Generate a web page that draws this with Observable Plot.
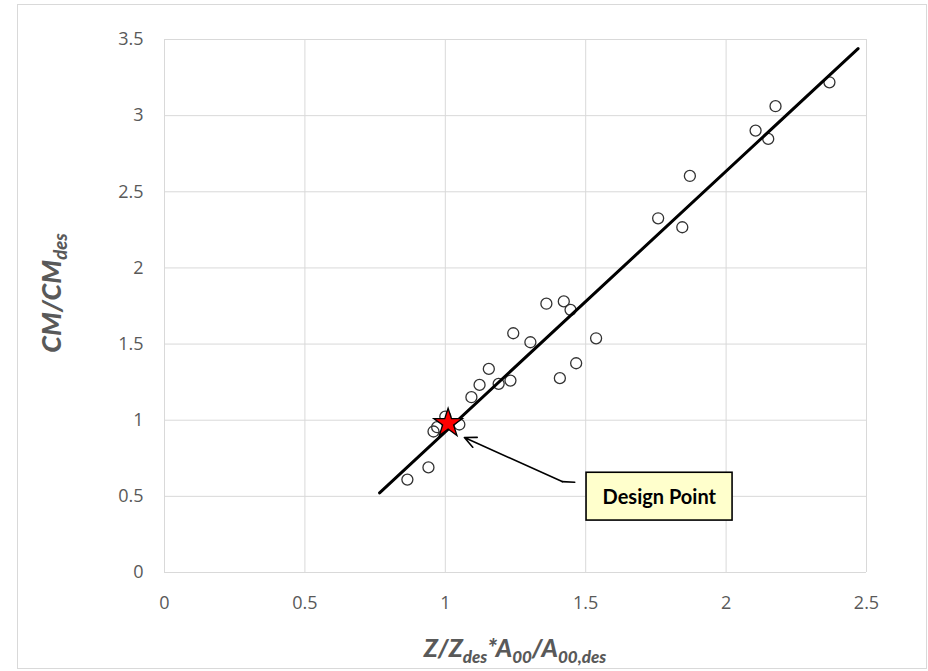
<!DOCTYPE html>
<html><head><meta charset="utf-8">
<script src="https://cdn.jsdelivr.net/npm/d3@7"></script>
<script src="https://cdn.jsdelivr.net/npm/@observablehq/plot@0.6"></script>
<style>
body{margin:0;background:#fff;}
#chart{position:relative;width:928px;height:671px;}
#frame{position:absolute;left:17px;top:4px;width:910px;height:665px;border:1px solid #d9d9d9;box-sizing:border-box;pointer-events:none}
</style></head><body>
<div id="chart"><div id="frame"></div></div>
<script>
// tick values
const xTicks = [0, 0.5, 1, 1.5, 2, 2.5];
const yTicks = [0, 0.5, 1, 1.5, 2, 2.5, 3, 3.5];
// measured points
const ptX = [0.865, 0.94, 0.958, 0.971, 1.0, 1.05, 1.093, 1.122, 1.155, 1.19, 1.232, 1.242, 1.303, 1.36, 1.408, 1.422, 1.446, 1.466, 1.537, 1.758, 1.844, 1.871, 2.105, 2.15, 2.176, 2.368];
const ptY = [0.61, 0.69, 0.926, 0.954, 1.024, 0.972, 1.151, 1.232, 1.337, 1.239, 1.26, 1.571, 1.512, 1.765, 1.276, 1.78, 1.725, 1.374, 1.538, 2.326, 2.267, 2.604, 2.902, 2.847, 3.062, 3.219];
// trend line endpoints
const fitX = [0.766, 2.47];
const fitY = [0.523, 3.44];
// design point
const designX = [1.01];
const designY = [0.98];
// annotation
const leaderX = [1.461, 1.416];
const leaderY = [0.593, 0.597];
const arrowTipX = [1.068];
const arrowTipY = [0.886];
const boxX = [1.503, 2.023];
const boxY = [0.341, 0.655];
const labelX = [1.762];
const labelY = [0.495];
const labelText = ["Design Point"];

const points = ptX.map((x, i) => ({x, y: ptY[i]}));
const fit = fitX.map((x, i) => ({x, y: fitY[i]}));
const design = designX.map((x, i) => ({x, y: designY[i]}));
const leader = leaderX.map((x, i) => ({x, y: leaderY[i]}));
const arrow = [{x1: leaderX[1], y1: leaderY[1], x2: arrowTipX[0], y2: arrowTipY[0]}];
const box = [{x1: boxX[0], x2: boxX[1], y1: boxY[0], y2: boxY[1]}];
const label = labelText.map((t, i) => ({x: labelX[i], y: labelY[i], t}));

const grid = "#d9d9d9";
const plot = Plot.plot({
  width: 928, height: 671,
  marginLeft: 164, marginRight: 62, marginTop: 39, marginBottom: 99,
  x: {domain: [0, 2.5]},
  y: {domain: [0, 3.5]},
  style: {fontFamily: "'Open Sans', sans-serif", fontSize: "18px", color: "#595959", background: "transparent"},
  marks: [
    Plot.gridX(xTicks, {stroke: grid, strokeOpacity: 1, strokeWidth: 1}),
    Plot.gridY(yTicks, {stroke: grid, strokeOpacity: 1, strokeWidth: 1}),
    Plot.axisX(xTicks, {tickSize: 0, tickPadding: 24, label: null, tickFormat: d => String(d), fill: "#595959", fontSize: 18}),
    Plot.axisY(yTicks, {tickSize: 0, tickPadding: 21, label: null, tickFormat: d => String(d), fill: "#595959", fontSize: 18}),
    Plot.dot(points, {x: "x", y: "y", r: 5.5, stroke: "#333", strokeWidth: 1.3, fill: "none"}),
    Plot.line(fit, {x: "x", y: "y", stroke: "black", strokeWidth: 3}),
    Plot.line(leader, {x: "x", y: "y", stroke: "black", strokeWidth: 1.6}),
    Plot.arrow(arrow, {x1: "x1", y1: "y1", x2: "x2", y2: "y2", stroke: "black", strokeWidth: 1.6, headLength: 12, headAngle: 50}),
    Plot.rect(box, {x1: "x1", x2: "x2", y1: "y1", y2: "y2", fill: "#ffffcc", stroke: "black", strokeWidth: 1.6}),
    Plot.text(label, {x: "x", y: "y", text: "t", fontWeight: "bold", fontSize: 20, fill: "black", fontFamily: "Lato, sans-serif"}),
    Plot.dot(design, {x: "x", y: "y", symbol: "star", r: 9, fill: "red", stroke: "black", strokeWidth: 1.3})
  ]
});
document.getElementById("chart").appendChild(plot);

const svg = d3.select(plot);
const titleStyle = (t, fs) => t.attr("font-family", "Lato, sans-serif").attr("font-weight", "900").attr("font-style", "italic").attr("fill", "#595959").attr("font-size", fs);
function sub(t, s, fs) { t.append("tspan").attr("font-size", fs * 0.68).attr("dy", fs * 0.24).text(s); }
function main(t, s, fs) { t.append("tspan").attr("font-size", fs).attr("dy", -fs * 0.24).text(s); }

const xfs = 25;
const xt = svg.append("text").attr("x", 515).attr("y", 657).attr("text-anchor", "middle").call(titleStyle, xfs);
xt.append("tspan").text("Z/Z");
sub(xt, "des", xfs);
main(xt, "*A", xfs);
sub(xt, "00", xfs);
main(xt, "/A", xfs);
sub(xt, "00,des", xfs);

const yfs = 27;
const yt = svg.append("text").attr("transform", "translate(61,293) rotate(-90)").attr("text-anchor", "middle").call(titleStyle, yfs);
yt.append("tspan").text("CM/CM");
sub(yt, "des", yfs);
</script>
</body></html>
